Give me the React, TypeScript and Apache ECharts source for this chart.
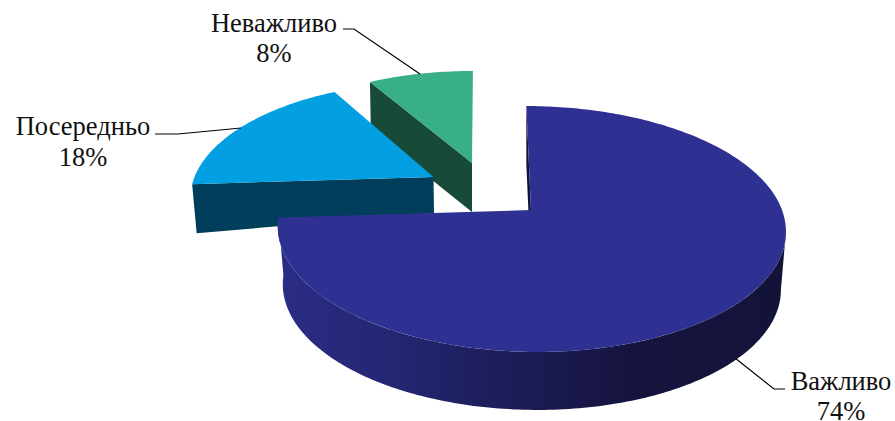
import React, { useEffect, useRef } from "react";
import * as echarts from "echarts";

const categories = ["Важливо", "Посередньо", "Неважливо"];
const shares = [74, 18, 8];

type Plane = { x: number; y: number; c: number; a: number; b: number; shear?: number; tilt?: number };

const topPlanes: Plane[] = [
  { x: 531, y: 210, c: 251, a: 120, b: 0.1546, shear: 0.045 },
  { x: 433.5, y: 177, c: 239, a: 113, b: 0.187 },
  { x: 472, y: 163, c: 221, a: 95.7, b: 0.04, shear: -0.01 },
];
const bottomPlanes: Plane[] = [
  { x: 531, y: 268, c: 246, a: 120, b: 0.1546, shear: 0.045 },
  { x: 434, y: 213, c: 235, a: 113, b: 0.187, tilt: -0.055 },
  { x: 472, y: 212, c: 219, a: 95.7, b: 0.04, shear: -0.01 },
];
const topColors = ["#2e3192", "#029fe3", "#38ae89"];
const wallColors = ["#12123f", "#013e5b", "#184a38"];
const labelAnchors = [
  { x: 841, nameY: 381, pctY: 411 },
  { x: 83, nameY: 126, pctY: 157 },
  { x: 274, nameY: 23, pctY: 53 },
];
const leaders = [
  [[735, 358], [774, 389], [785, 389]],
  [[155, 134], [178, 134], [241, 128]],
  [[343, 29], [354, 29], [420, 74]],
];
const mainWallSpan = 100; // degrees: the main slice's outer wall starts where its rim turns to the viewer

const rad = (d: number) => (d * Math.PI) / 180;

function project(p: Plane, deg: number): number[] {
  const t = rad(deg);
  const wy = -Math.cos(t);
  const d = 1 - p.b * wy;
  const px = (p.c * Math.sin(t)) / d;
  const py = (p.a * wy) / d;
  return [p.x + px + (p.shear || 0) * py, p.y + py + (p.tilt || 0) * px];
}

function arc(p: Plane, from: number, to: number): number[][] {
  const pts: number[][] = [];
  const n = Math.max(2, Math.ceil(Math.abs(to - from)));
  for (let i = 0; i <= n; i++) pts.push(project(p, from + ((to - from) * i) / n));
  return pts;
}

function labelText(text: string, x: number, y: number) {
  return {
    type: "text",
    z2: 100,
    x,
    y,
    style: {
      text,
      font: '26.5px "Liberation Serif"',
      lineHeight: 20,
      fill: "#111",
      align: "center",
      verticalAlign: "middle",
    },
  };
}

function renderItem(params: any, api: any) {
  const i = params.dataIndex;
  const total = shares.reduce((s, v) => s + v, 0);
  const start = (shares.slice(0, i).reduce((s, v) => s + v, 0) / total) * 360;
  const end = start + (api.value(0) / total) * 360;
  const top = topPlanes[i];
  const bot = bottomPlanes[i];
  const base = (2 - i) * 10;
  const children: any[] = [];
  const apexT = [top.x, top.y];
  const apexB = [bot.x, bot.y];

  if (i === 0) {
    children.push({
      type: "polygon",
      z2: base,
      shape: { points: [project(top, start), apexT, apexB, project(bot, start)] },
      style: { fill: wallColors[0] },
    });
    children.push({
      type: "polygon",
      z2: base + 1,
      shape: { points: [...arc(top, mainWallSpan, end), ...arc(bot, end, mainWallSpan)] },
      style: {
        fill: new echarts.graphic.LinearGradient(0, 0, 1, 0, [
          { offset: 0, color: "#2a2d85" },
          { offset: 0.24, color: "#232670" },
          { offset: 0.51, color: "#1b1a52" },
          { offset: 0.71, color: "#15143e" },
          { offset: 1, color: "#13133a" },
        ]),
      },
    });
  } else {
    children.push({
      type: "polygon",
      z2: base,
      shape: { points: [apexT, project(top, start), project(bot, start), apexB] },
      style: { fill: wallColors[i] },
    });
  }
  children.push({
    type: "polygon",
    z2: base + 2,
    shape: { points: [apexT, ...arc(top, start, end)] },
    style: { fill: topColors[i] },
  });
  children.push({
    type: "polyline",
    z2: 100,
    shape: { points: leaders[i] },
    style: { stroke: "#000", lineWidth: 1.2, fill: null },
  });
  const a = labelAnchors[i];
  children.push(labelText(categories[i], a.x, a.nameY));
  children.push(labelText(`${api.value(0)}%`, a.x, a.pctY));
  return { type: "group", children };
}

export default function App() {
  const ref = useRef<HTMLDivElement>(null);
  useEffect(() => {
    document.body.style.margin = "0";
    const chart = echarts.init(ref.current!, null, { renderer: "svg" });
    chart.setOption({
      animation: false,
      backgroundColor: "#fff",
      series: [
        {
          type: "custom",
          coordinateSystem: "none",
          renderItem,
          data: shares,
          silent: true,
          clip: false,
        },
      ],
    });
    return () => chart.dispose();
  }, []);
  return <div ref={ref} style={{ width: 895, height: 421 }} />;
}
